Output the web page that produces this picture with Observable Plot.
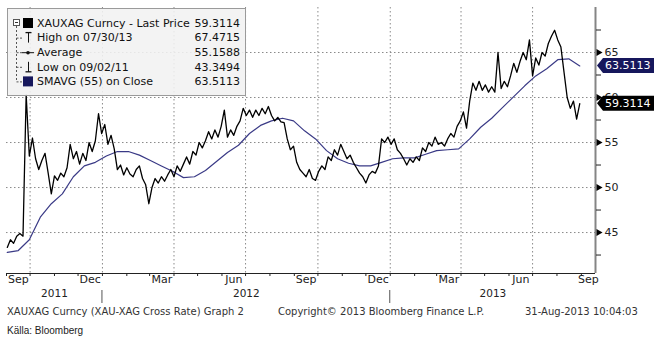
<!DOCTYPE html>
<html><head><meta charset="utf-8">
<script src="https://cdn.jsdelivr.net/npm/d3@7"></script>
<script src="https://cdn.jsdelivr.net/npm/@observablehq/plot@0.6"></script>
<style>
body{margin:0;background:#fff;width:654px;height:341px;position:relative;overflow:hidden;font-family:"DejaVu Sans",sans-serif;}
#chart svg{display:block}
.foot{position:absolute;left:0;top:305px;width:654px;height:14px;font-size:10px;line-height:14px;color:#333;white-space:nowrap}
.foot span{position:absolute;top:0}
.src{position:absolute;left:7px;top:325px;font:10px "Liberation Sans",Arial,sans-serif;color:#222}
</style></head><body>
<div id="chart"></div>
<div class="foot"><span style="left:7px">XAUXAG Curncy (XAU-XAG Cross Rate) Graph 2</span><span style="left:278px">Copyright© 2013 Bloomberg Finance L.P.</span><span style="left:525px">31-Aug-2013 10:04:03</span></div>
<div class="src">Källa: Bloomberg</div>
<script>
// ---- data ----
const priceStart = "2011-09-02";
const priceStepDays = 4;
const prices = [
43.35,44.2,43.8,44.6,44.9,44.6,60.3,53.5,55.5,53.2,
52.0,53.0,53.8,51.6,49.3,51.3,50.8,51.6,51.2,52.2,
54.8,53.2,54.0,52.6,53.8,53.0,55.0,54.0,55.2,58.2,
56.0,57.0,54.8,55.8,54.3,52.0,52.5,51.4,52.2,51.5,
51.2,52.0,52.4,51.0,50.3,48.2,50.0,51.0,50.5,51.2,
50.7,51.4,52.0,51.2,52.4,51.8,52.6,53.4,52.6,54.0,
53.6,55.0,54.4,55.2,56.2,55.4,56.4,55.6,56.8,58.6,
55.6,56.4,55.8,56.8,57.4,58.8,58.0,58.6,57.8,58.6,
58.0,58.8,58.2,59.0,58.0,57.4,57.8,57.3,57.2,55.4,
54.2,54.6,52.8,52.0,51.6,51.2,52.0,51.0,50.8,51.8,
52.4,52.0,53.4,53.0,54.2,53.6,54.8,54.0,53.2,53.6,
52.8,52.2,51.6,51.2,50.5,51.4,51.8,51.6,52.4,55.4,
55.0,55.6,54.8,55.4,54.2,53.8,53.2,52.5,53.2,52.8,
53.4,53.0,54.4,54.0,55.0,54.6,55.6,54.8,55.0,54.6,
55.4,56.0,55.6,56.8,57.4,58.4,56.6,59.6,61.6,60.8,
61.8,60.8,61.4,60.6,61.2,60.6,65.0,61.0,61.8,61.2,
62.4,63.8,62.8,64.0,65.0,64.2,66.4,62.4,64.4,63.6,
65.0,64.6,66.0,66.8,67.47,66.4,65.6,62.8,60.0,58.8,
59.6,57.6,59.31
];
const smaStart = "2011-09-02";
const smaStepDays = 14;
const sma55 = [
42.8,43.0,44.2,46.7,48.2,49.3,51.2,52.4,52.8,53.5,
54.0,54.0,53.6,53.0,52.4,51.8,51.1,51.2,51.9,52.9,
53.9,54.7,56.0,56.9,57.4,57.7,57.4,56.3,55.4,54.1,
53.2,52.7,52.4,52.4,52.8,53.2,53.3,53.3,53.7,54.1,
54.2,54.3,55.4,56.7,57.7,58.9,60.1,61.3,62.4,63.2,
64.2,64.3,63.51
];
const xDomain = ["2011-09-01", "2013-09-19"];
const yDomain = [40.45, 70];
const yTicks = [45, 50, 55, 60, 65];
const yMinorTicks = [42.5, 47.5, 52.5, 57.5, 62.5, 67.5];
const monthLabelMonths = ["2011-09","2011-12","2012-03","2012-06","2012-09","2012-12","2013-03","2013-06","2013-09"];
const monthLabels = ["Sep","Dec","Mar","Jun","Sep","Dec","Mar","Jun","Sep"];
const yearLabels = ["2011","2012","2013"];
const lastPrice = 59.3114;
const lastSma = 63.5113;
const legendLabels = ["XAUXAG Curncy - Last Price","High on 07/30/13","Average","Low on 09/02/11","SMAVG (55) on Close"];
const legendValues = ["59.3114","67.4715","55.1588","43.3494","63.5113"];
const legendIcons = ["square","high","avg","low","square2"];

// ---- build ----
const x0 = new Date(xDomain[0]), x1 = new Date(xDomain[1]);
const priceData = prices.map((v, i) => ({date: d3.utcDay.offset(new Date(priceStart), i * priceStepDays), value: v}));
const smaData = sma55.map((v, i) => ({date: d3.utcDay.offset(new Date(smaStart), i * smaStepDays), value: v}));
const monthStarts = d3.utcMonth.range(x0, x1);
const quarterStarts = monthStarts.filter(d => d.getUTCMonth() % 3 === 0);
const visMid = (a, b) => {
  const s = Math.max(+a, +x0), e = Math.min(+b, +x1);
  return new Date((s + e) / 2);
};
const monthLabelData = monthLabelMonths.map((m, i) => {
  const s = new Date(m + "-01");
  return {date: visMid(s, d3.utcMonth.offset(s, 1)), label: monthLabels[i]};
});
const yearLabelData = yearLabels.map(y => {
  const s = new Date(y + "-01-01");
  return {date: visMid(s, d3.utcYear.offset(s, 1)), label: y};
});
const yearStarts = yearLabels.map(y => new Date(y + "-01-01")).filter(d => d > x0 && d < x1);

const navy = "#16175c";
const chart = Plot.plot({
  width: 654, height: 304,
  marginTop: 7, marginLeft: 6, marginRight: 59, marginBottom: 31,
  style: {fontFamily: "DejaVu Sans", fontSize: "11px", color: "#222", background: "#fff"},
  x: {type: "utc", domain: [x0, x1]},
  y: {domain: yDomain},
  marks: [
    Plot.gridY(yTicks, {stroke: "#8a8a8a", strokeOpacity: 1, strokeDasharray: "1.5,2.5"}),
    Plot.gridX(quarterStarts, {stroke: "#8a8a8a", strokeOpacity: 1, strokeDasharray: "1.5,2.5"}),
    Plot.line(smaData, {x: "date", y: "value", stroke: "#3a3a86", strokeWidth: 1.2}),
    Plot.line(priceData, {x: "date", y: "value", stroke: "#000", strokeWidth: 1.3}),
    Plot.ruleY([yDomain[0]], {stroke: "#222"}),
    Plot.ruleX([x1], {stroke: "#858585", strokeWidth: 2}),
    Plot.axisX({ticks: monthStarts, tickSize: 3, tickFormat: () => "", label: null}),
    Plot.text(monthLabelData, {x: "date", text: "label", frameAnchor: "bottom", dy: 9, fontSize: 11, fill: "#222"}),
    Plot.text(yearLabelData, {x: "date", text: "label", frameAnchor: "bottom", dy: 23, fontSize: 10.5, fill: "#222"}),
    Plot.axisY({anchor: "right", ticks: yMinorTicks, tickSize: 5, tickFormat: () => "", label: null}),
    Plot.axisY({anchor: "right", ticks: yTicks, tickSize: 0, tickPadding: 9, fontSize: 11, label: null}),
    Plot.dot(yTicks, {x: () => x1, y: d => d, symbol: "triangle", rotate: 90, r: 2.6, dx: 3, fill: "#000", stroke: "none"})
  ]
});
document.getElementById("chart").appendChild(chart);

const svg = d3.select(chart);
const xs = chart.scale("x"), ys = chart.scale("y");
const yBottom = ys.apply(yDomain[0]);

// year separators
yearStarts.forEach(d => {
  const px = xs.apply(d);
  svg.append("line").attr("x1", px).attr("x2", px).attr("y1", yBottom + 17).attr("y2", yBottom + 30)
    .attr("stroke", "#555").attr("stroke-width", 1);
});

// value tags on the right axis
const xRight = xs.apply(x1);
function tag(v, fill) {
  const cy = ys.apply(v);
  const h = 7.5;
  svg.append("path")
    .attr("d", `M${xRight + 2},${cy} L${xRight + 8},${cy - h} L654,${cy - h} L654,${cy + h} L${xRight + 8},${cy + h} Z`)
    .attr("fill", fill);
  svg.append("text").attr("x", xRight + 10).attr("y", cy).attr("dy", "0.35em")
    .attr("text-anchor", "start")
    .attr("fill", "#fff").attr("font-size", 11).attr("font-family", "DejaVu Sans")
    .text(v.toFixed(4));
}
tag(lastSma, navy);
tag(lastPrice, "#000");

// legend box
const lg = svg.append("g").attr("text-anchor", "start");
lg.append("rect").attr("x", 7.5).attr("y", 8.5).attr("width", 238).attr("height", 87)
  .attr("fill", "#f1f1f1").attr("fill-opacity", 0.88).attr("stroke", "#9a9a9a");
const rowY = i => 23 + i * 14.6;
// tree
lg.append("rect").attr("x", 13.5).attr("y", 19.5).attr("width", 6).attr("height", 6).attr("fill", "#fff").attr("stroke", "#555");
lg.append("line").attr("x1", 15).attr("x2", 18).attr("y1", 22.5).attr("y2", 22.5).attr("stroke", "#333");
lg.append("line").attr("x1", 16.5).attr("x2", 16.5).attr("y1", 26).attr("y2", rowY(4)).attr("stroke", "#555").attr("stroke-dasharray", "2,2");
for (let i = 1; i < 5; i++) {
  lg.append("line").attr("x1", 16.5).attr("x2", 22).attr("y1", rowY(i) + 0.5).attr("y2", rowY(i) + 0.5).attr("stroke", "#555").attr("stroke-dasharray", "2,1.5");
}
legendLabels.forEach((lab, i) => {
  const cy = rowY(i);
  const ic = legendIcons[i];
  if (ic === "square" || ic === "square2") {
    lg.append("rect").attr("x", 23).attr("y", cy - 5).attr("width", 10).attr("height", 10)
      .attr("fill", ic === "square" ? "#000" : navy);
  } else if (ic === "high" || ic === "low") {
    lg.append("line").attr("x1", 28.5).attr("x2", 28.5).attr("y1", cy - 5).attr("y2", cy + 5).attr("stroke", "#111");
    const by = ic === "high" ? cy - 5 : cy + 5;
    lg.append("line").attr("x1", 25.5).attr("x2", 31.5).attr("y1", by).attr("y2", by).attr("stroke", "#111").attr("stroke-width", 1.3);
  } else {
    lg.append("line").attr("x1", 22).attr("x2", 34).attr("y1", cy + 0.5).attr("y2", cy + 0.5).attr("stroke", "#111");
    lg.append("circle").attr("cx", 28).attr("cy", cy + 0.5).attr("r", 1.8).attr("fill", "#111");
  }
  lg.append("text").attr("x", 37).attr("y", cy).attr("dy", "0.35em").attr("font-size", 11)
    .attr("text-anchor", "start")
    .attr("font-family", "DejaVu Sans").attr("fill", "#111").text(lab);
  lg.append("text").attr("x", 240).attr("y", cy).attr("dy", "0.35em").attr("font-size", 11)
    .attr("font-family", "DejaVu Sans").attr("fill", "#111").attr("text-anchor", "end").text(legendValues[i]);
});
</script>
</body></html>
